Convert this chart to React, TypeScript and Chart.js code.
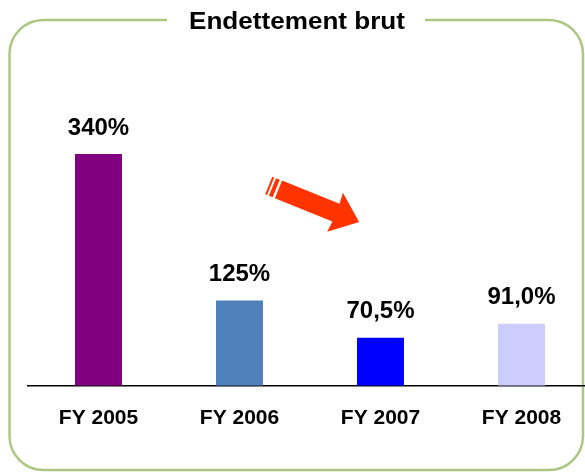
import React, { useEffect, useRef } from "react";
import { Chart, registerables } from "chart.js";

Chart.register(...registerables);

const categories = ["FY 2005", "FY 2006", "FY 2007", "FY 2008"];
const values = [340, 125, 70.5, 91.0];
const valueLabels = ["340%", "125%", "70,5%", "91,0%"];
const barColors = ["#800080", "#4F81BD", "#0000FF", "#CCCCFF"];
const title = "Endettement brut";

const FONT = "'Liberation Sans', Arial, Helvetica, sans-serif";

const framePlugin = {
  id: "frame",
  beforeDraw(chart: any) {
    const ctx = chart.ctx;
    ctx.save();
    ctx.fillStyle = "#ffffff";
    ctx.fillRect(0, 0, chart.width, chart.height);
    ctx.font = `bold 24px ${FONT}`;
    const tw = ctx.measureText(title).width;
    const sx = 216 / tw;
    const cx = 297;
    const gapL = cx - 216 / 2 - 22;
    const gapR = cx + 216 / 2 + 20;
    const x0 = 9.5, y0 = 20, x1 = 583, y1 = 470, r = 34;
    ctx.strokeStyle = "#ACC782";
    ctx.lineWidth = 2.5;
    ctx.beginPath();
    ctx.moveTo(gapR, y0);
    ctx.lineTo(x1 - r, y0);
    ctx.arcTo(x1, y0, x1, y0 + r, r);
    ctx.lineTo(x1, y1 - r);
    ctx.arcTo(x1, y1, x1 - r, y1, r);
    ctx.lineTo(x0 + r, y1);
    ctx.arcTo(x0, y1, x0, y1 - r, r);
    ctx.lineTo(x0, y0 + r);
    ctx.arcTo(x0, y0, x0 + r, y0, r);
    ctx.lineTo(gapL, y0);
    ctx.stroke();
    ctx.fillStyle = "#000000";
    ctx.textAlign = "center";
    ctx.textBaseline = "alphabetic";
    ctx.translate(cx, 28.5);
    ctx.scale(sx, 1);
    ctx.fillText(title, 0, 0);
    ctx.restore();
  },
};

const arrowPlugin = {
  id: "trendArrow",
  afterDatasetsDraw(chart: any) {
    const ctx = chart.ctx;
    const xs = chart.scales.x;
    const ys = chart.scales.y;
    const ox = xs.getPixelForValue(1) + 39;
    const oy = ys.getPixelForValue(288);
    const ang = (22 * Math.PI) / 180;
    ctx.save();
    ctx.translate(ox, oy);
    ctx.rotate(ang);
    ctx.fillStyle = "#FF3300";
    ctx.beginPath();
    ctx.moveTo(0, -9.5);
    ctx.lineTo(62, -9.5);
    ctx.lineTo(61, -21);
    ctx.lineTo(87, 0);
    ctx.lineTo(61, 21);
    ctx.lineTo(62, 9.5);
    ctx.lineTo(0, 9.5);
    ctx.closePath();
    ctx.fill();
    ctx.fillRect(-6.5, -9.5, 4, 19);
    ctx.fillRect(-10.5, -9.5, 2, 19);
    ctx.restore();
  },
};

const labelPlugin = {
  id: "valueLabels",
  afterDatasetsDraw(chart: any) {
    const ctx = chart.ctx;
    const meta = chart.getDatasetMeta(0);
    ctx.save();
    ctx.font = `bold 24px ${FONT}`;
    ctx.fillStyle = "#000000";
    ctx.textAlign = "center";
    ctx.textBaseline = "middle";
    meta.data.forEach((bar: any, i: number) => {
      ctx.fillText(valueLabels[i], bar.x, bar.y - 26);
    });
    ctx.restore();
  },
};

export default function App() {
  const ref = useRef<HTMLCanvasElement | null>(null);
  useEffect(() => {
    if (!ref.current) return;
    const chart = new Chart(ref.current, {
      type: "bar",
      data: {
        labels: categories,
        datasets: [
          {
            data: values,
            backgroundColor: barColors,
            borderWidth: 0,
            categoryPercentage: 1,
            barPercentage: 0.333,
          },
        ],
      },
      options: {
        animation: false,
        responsive: false,
        layout: { padding: { left: 28, right: 8, top: 113, bottom: 22 } },
        plugins: { legend: { display: false }, tooltip: { enabled: false } },
        scales: {
          x: {
            grid: { display: false, drawTicks: false },
            border: { display: true, color: "#000000", width: 1.5 },
            ticks: {
              color: "#000000",
              padding: 20,
              font: { family: FONT, weight: "bold", size: 21 },
            },
          },
          y: {
            display: false,
            min: 0,
            max: 400,
          },
        },
      },
      plugins: [framePlugin, labelPlugin, arrowPlugin],
    });
    return () => chart.destroy();
  }, []);
  return (
    <div
      style={{
        position: "absolute",
        left: 0,
        top: 0,
        width: 585,
        height: 473,
        overflow: "hidden",
        background: "#fff",
      }}
    >
      <canvas ref={ref} width={600} height={473} style={{ display: "block" }} />
    </div>
  );
}
